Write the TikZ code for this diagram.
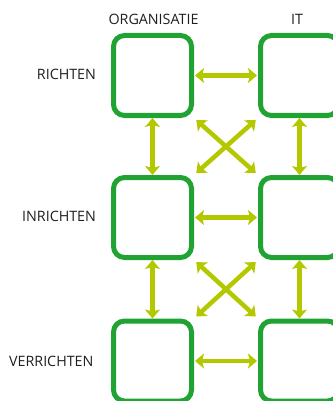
\documentclass[tikz,border=0pt]{standalone}
\usepackage{fontspec}
\setmainfont{Open Sans}
\usetikzlibrary{positioning, arrows.meta}

\definecolor{boxgreen}{RGB}{33,163,52}
\definecolor{arrowlime}{RGB}{180,200,0}

\begin{document}
\begin{tikzpicture}[
    x=1pt, y=-1pt,
    layer/.style={draw=boxgreen, line width=5pt, rounded corners=11pt, minimum width=78pt, minimum height=80pt, inner sep=0pt},
    link/.style={{Stealth[length=9pt, width=15pt, inset=2pt]}-{Stealth[length=9pt, width=15pt, inset=2pt]}, line width=4.5pt, draw=arrowlime},
    label/.style={font=\fontsize{14.3}{16}\selectfont, text=black!88}
]
    \useasboundingbox (0,0) rectangle (332,401);

    % === Boxes ===
    \node[layer] (L1) at (152.5, 75.5) {};
    \node[layer] (R1) at (299.5, 75.5) {};
    \node[layer] (L2) at (152.5, 217.5) {};
    \node[layer] (R2) at (299.5, 217.5) {};
    \node[layer] (L3) at (152.5, 361) {};
    \node[layer] (R3) at (299.5, 361) {};

    % Column titles
    \node[label] (org) at (153.5, 19.5) {ORGANISATIE};
    \node[label] (it) at (297, 19.5) {IT};

    % Row titles
    \node[label, anchor=east] (richten) at (99.5, 74.5) {RICHTEN};
    \node[label, anchor=east] (inrichten) at (99.5, 216.5) {INRICHTEN};
    \node[label, anchor=east] (verrichten) at (97, 361) {VERRICHTEN};

    % === Arrows ===
    % horizontal
    \draw[link, shorten <=1pt, shorten >=1pt] (L1) -- (R1);
    \draw[link, shorten <=1pt, shorten >=1pt] (L2) -- (R2);
    \draw[link, shorten <=1pt, shorten >=1pt] (L3) -- (R3);

    % vertical
    \draw[link] (L1) -- (L2);
    \draw[link] (R1) -- (R2);
    \draw[link] (L2) -- (L3);
    \draw[link] (R2) -- (R3);

    % crossing
    \draw[link, shorten <=3pt, shorten >=3pt] (L1.south east) -- (R2.north west);
    \draw[link, shorten <=3pt, shorten >=3pt] (R1.south west) -- (L2.north east);
    \draw[link, shorten <=3pt, shorten >=3pt] (L2.south east) -- (R3.north west);
    \draw[link, shorten <=3pt, shorten >=3pt] (R2.south west) -- (L3.north east);

\end{tikzpicture}
\end{document}
